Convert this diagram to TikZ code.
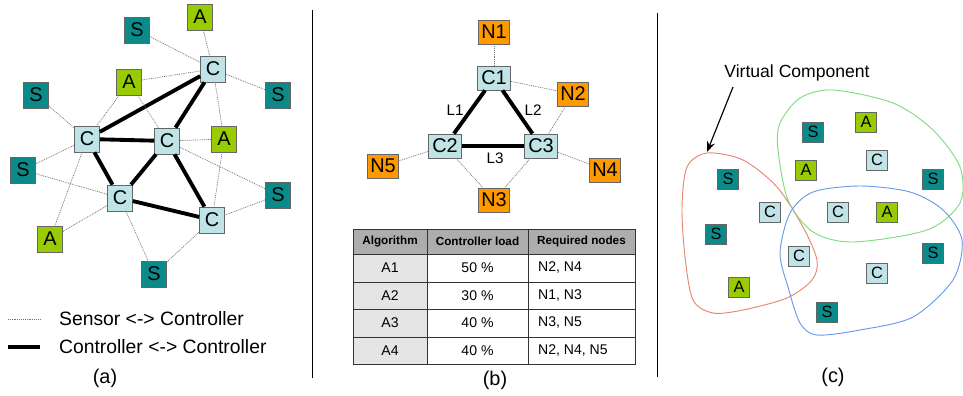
\documentclass[tikz,border=0pt]{standalone}
\usepackage{fontspec}
\setmainfont{Liberation Sans}
\usetikzlibrary{arrows.meta}

\definecolor{sensorcol}{HTML}{0B8A8A}
\definecolor{actcol}{HTML}{99CC00}
\definecolor{ctrlcol}{HTML}{BFE3E6}
\definecolor{netcol}{HTML}{FF9900}
\definecolor{redblob}{HTML}{E8856E}
\definecolor{greenblob}{HTML}{7FDD7F}
\definecolor{blueblob}{HTML}{6B9AE8}

\tikzset{
	box/.style={draw=black!60, line width=0.6pt, inner sep=0pt,
		minimum width=0.75cm, minimum height=0.78cm, font=\fontsize{17}{17}\selectfont},
	sbox/.style={box, fill=sensorcol},
	abox/.style={box, fill=actcol},
	cbox/.style={box, fill=ctrlcol},
	nbox/.style={box, fill=netcol, minimum width=0.93cm, minimum height=0.72cm},
	kbox/.style={box, fill=ctrlcol, minimum width=0.99cm, minimum height=0.72cm},
	tiny/.style={minimum width=0.63cm, minimum height=0.6cm, font=\fontsize{14}{14}\selectfont},
	ctrl/.style={line width=3.3pt},
	sens/.style={black!55, line width=0.6pt, dash pattern=on 0.8pt off 0.8pt},
	caption/.style={font=\fontsize{17}{17}\selectfont},
	legend/.style={anchor=west, font=\fontsize{16.5}{16.5}\selectfont},
	link/.style={font=\fontsize{13}{13}\selectfont},
	cell/.style={font=\fontsize{12}{12}\selectfont},
	head/.style={font=\fontsize{10}{10}\selectfont\bfseries},
	blob/.style={line width=0.8pt}
}

\begin{document}
\begin{tikzpicture}[x=0.03cm,y=-0.03cm]
	\useasboundingbox (0,0) rectangle (963,395);
	% (a) sensors, actuators and controllers
	\node[sbox] (s1) at (137,30) {S};
	\node[abox] (a1) at (200,17) {A};
	\node[cbox] (c1) at (213,69) {C};
	\node[sbox] (s2) at (278,95) {S};
	\node[abox] (a2) at (129,82) {A};
	\node[sbox] (s3) at (36,95) {S};
	\node[cbox] (c2) at (87,139) {C};
	\node[cbox] (c3) at (167,141) {C};
	\node[abox] (a3) at (224,139) {A};
	\node[sbox] (s4) at (23,170) {S};
	\node[cbox] (c4) at (120,198) {C};
	\node[sbox] (s5) at (278,195) {S};
	\node[cbox] (c5) at (212,220) {C};
	\node[abox] (a4) at (50,239) {A};
	\node[sbox] (s6) at (154,274) {S};
	\foreach \u/\v in {c2/c1, c1/c3, c2/c3, c2/c4, c3/c4, c3/c5, c4/c5}
		\draw[ctrl] (\u) -- (\v);
	\foreach \u/\v in {s1/c1, a1/c1, c1/s2, a2/c1, c1/a3, a2/c3, a2/c2, s3/c2, s4/c2,
		s4/c4, c2/a4, a4/c4, c4/s6, s6/c5, c3/a3, c3/s5, s5/c5, a3/c5}
		\draw[sens] (\u) -- (\v);
	% legend
	\coordinate (la) at (8,319); \coordinate (lb) at (40,319);
	\coordinate (lc) at (8,347); \coordinate (ld) at (40,347);
	\draw[sens] (la) -- (lb);
	\draw[ctrl] (lc) -- (ld);
	\node[legend] (leg1) at (55,319) {Sensor <-> Controller};
	\node[legend] (leg2) at (55,347) {Controller <-> Controller};
	\node[caption] (capa) at (105,378) {(a)};

	\draw[line width=0.8pt] (312,10) -- (312,378);
	\draw[line width=0.8pt] (657,13) -- (657,377);

	% (b) three controllers and their nodes
	\node[nbox] (n1) at (494,32) {N1};
	\node[kbox] (k1) at (494,78) {C1};
	\node[nbox] (n2) at (573,94) {N2};
	\node[kbox] (k2) at (445,146) {C2};
	\node[kbox] (k3) at (541,146) {C3};
	\node[nbox] (n5) at (383,166) {N5};
	\node[nbox] (n4) at (605,170) {N4};
	\node[nbox] (n3) at (494,200) {N3};
	\draw[ctrl] (k1) -- (k2);
	\draw[ctrl] (k1) -- (k3);
	\draw[ctrl] (k2) -- (k3);
	\foreach \u/\v in {n1/k1, k1/n2, n2/k3, k2/n5, k3/n4, k2/n3, k3/n3}
		\draw[sens] (\u) -- (\v);
	\node[link] (l1) at (455,110) {L1};
	\node[link] (l2) at (533,110) {L2};
	\node[link] (l3) at (495,158) {L3};

	% table
	\fill[black!32] (353,229) rectangle (635,254);
	\fill[black!10] (353,254) rectangle (427,364);
	\draw[black!80, line width=0.8pt] (353,229) rectangle (635,364);
	\foreach \y in {254,282,309,337}
		\draw[black!80, line width=0.8pt] (353,\y) -- (635,\y);
	\foreach \x in {427,528}
		\draw[black!80, line width=0.8pt] (\x,229) -- (\x,364);
	\node[head] (h1) at (390,241.5) {Algorithm};
	\node[head] (h2) at (477.5,241.5) {Controller load};
	\node[head] (h3) at (581.5,241.5) {Required nodes};
	\foreach \alg/\load/\req [count=\i] in {A1/50 \%/{N2, N4}, A2/30 \%/{N1, N3},
		A3/40 \%/{N3, N5}, A4/40 \%/{N2, N4, N5}} {
		\node[cell] (alg\i) at (390,{254+27.5*(\i-0.5)}) {\alg};
		\node[cell] (load\i) at (477.5,{254+27.5*(\i-0.5)}) {\load};
		\node[cell, anchor=west] (req\i) at (534,{254+27.5*(\i-0.5)}) {\req};
	}
	\node[caption] (capb) at (495,380) {(b)};

	% (c) virtual components
	\draw[blob, redblob] plot[smooth cycle] coordinates {(707,153) (743,160) (777,187)
		(803,227) (817,260) (812,280) (787,298) (743,310) (713,313) (693,300) (685,257)
		(682,207) (687,167)};
	\draw[blob, greenblob] plot[smooth cycle] coordinates {(780,123) (800,98) (833,90)
		(893,103) (933,130) (960,167) (960,203) (927,230) (853,242) (813,232) (788,200)
		(778,150)};
	\draw[blob, blueblob] plot[smooth cycle] coordinates {(860,186) (910,192) (943,210)
		(962,240) (953,280) (913,317) (860,330) (817,335) (800,323) (788,287) (780,253)
		(790,213) (813,192)};
	\node[sbox, tiny] (v1) at (813,132) {S};
	\node[abox, tiny] (v2) at (866,122) {A};
	\node[cbox, tiny] (v3) at (877,160) {C};
	\node[abox, tiny] (v4) at (806,170) {A};
	\node[sbox, tiny] (v5) at (933,179) {S};
	\node[sbox, tiny] (v6) at (728,179) {S};
	\node[cbox, tiny] (v7) at (770,212) {C};
	\node[cbox, tiny] (v8) at (838,212) {C};
	\node[abox, tiny] (v9) at (887,212) {A};
	\node[sbox, tiny] (v10) at (716,234) {S};
	\node[cbox, tiny] (v11) at (799,256) {C};
	\node[sbox, tiny] (v12) at (933,253) {S};
	\node[cbox, tiny] (v13) at (877,273) {C};
	\node[abox, tiny] (v14) at (739,287) {A};
	\node[sbox, tiny] (v15) at (827,312) {S};
	\node[font=\fontsize{15}{15}\selectfont] (vc) at (797,73) {Virtual Component};
	\coordinate (vcfrom) at (733,87);
	\coordinate (vcto) at (707,152);
	\draw[line width=1pt, -{Stealth[length=9pt,width=7pt]}] (vcfrom) -- (vcto);
	\node[caption] (capc) at (833,377) {(c)};
\end{tikzpicture}
\end{document}
